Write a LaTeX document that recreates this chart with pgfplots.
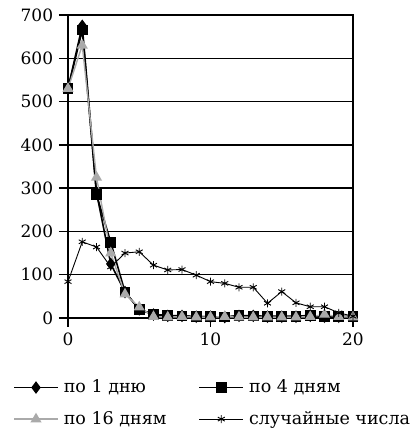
\documentclass[border=0pt]{standalone}
\usepackage{fontspec}
\setmainfont{DejaVu Serif}
\usepackage{pgfplots}
\pgfplotsset{compat=1.18}
\definecolor{lgray}{RGB}{170,170,170}

\pgfplotstableread{
x  d1   d4   d16  rnd
0  530  530  530  84
1  675  665  630  176
2  290  285  325  164
3  125  175  150  118
4  60   60   55   150
5  20   20   25   153
6  8    8    3    122
7  5    6    2    111
8  5    5    3    112
9  3    3    2    99
10 3    3    2    84
11 2    2    3    80
12 5    6    2    71
13 5    5    2    71
14 3    4    2    34
15 3    4    2    61
16 3    4    2    35
17 5    6    3    26
18 3    3    8    26
19 3    4    3    12
20 3    3    2    4
}\datatable

\begin{document}
\fontsize{17}{20}\selectfont
\begin{tikzpicture}
\useasboundingbox (0,0) rectangle (412pt,433pt);
\begin{axis}[
  at={(68pt,115pt)}, anchor=south west,
  scale only axis,
  width=285pt, height=303pt,
  xmin=0, xmax=20,
  ymin=0, ymax=700,
  xtick={0,10,20},
  ytick={0,100,...,700},
  xtick pos=left, ytick pos=left,
  tick align=outside,
  major tick length=9pt,
  every tick/.style={black, line width=1.3pt},
  axis line style={line width=1.3pt},
  ymajorgrids,
  grid style={black, line width=1.3pt},
  /pgf/number format/assume math mode=true,
  tick label style={font=\fontsize{17}{20}\selectfont},
  legend columns=2,
  legend style={
    at={(axis description cs:-0.2035,-0.19)}, anchor=north west,
    draw=none, fill=none,
    font=\fontsize{17.5}{20}\selectfont,
    row sep=12pt,
    /tikz/every even column/.append style={column sep=30pt},
    /tikz/every odd column/.append style={column sep=3pt},
  },
  legend cell align=left,
  legend image code/.code={
    \draw[mark repeat=2,mark phase=2,#1] plot coordinates {(0pt,0pt) (22pt,0pt) (44pt,0pt)};
  },
]
\addplot[black, line width=1.6pt, mark=diamond*, mark size=5pt] table[x=x,y=d1] {\datatable};
\addlegendentry{по 1 дню}
\addplot[black, line width=1.6pt, mark=square*, mark size=4.5pt] table[x=x,y=d4] {\datatable};
\addlegendentry{по 4 дням}
\addplot[lgray, line width=1.4pt, mark=triangle*, mark size=5pt] table[x=x,y=d16] {\datatable};
\addlegendentry{по 16 дням}
\addplot[black, line width=0.9pt, mark=asterisk, mark size=4pt, mark options={line width=0.9pt}] table[x=x,y=rnd] {\datatable};
\addlegendentry{случайные числа}
\end{axis}
\end{tikzpicture}
\end{document}
